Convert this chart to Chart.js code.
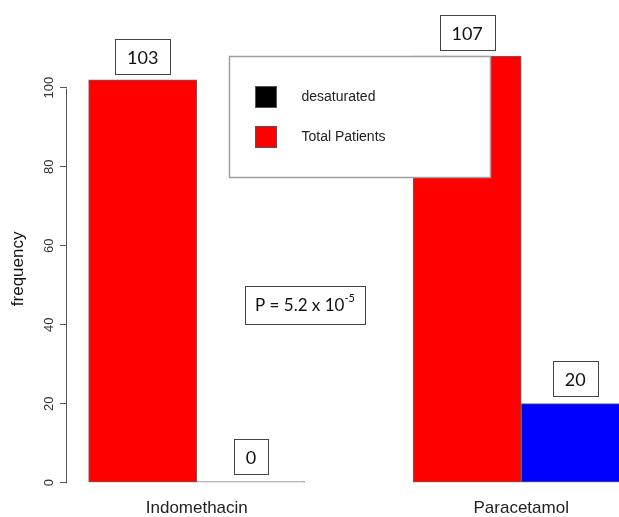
<!DOCTYPE html>
<html>
<head>
<meta charset="utf-8">
<script src="https://cdn.jsdelivr.net/npm/chart.js@4.4.1/dist/chart.umd.min.js"></script>
<style>
html, body { margin: 0; padding: 0; overflow: hidden; background: #fff; }
#wrap { width: 651px; height: 517px; }
</style>
</head>
<body>
<div id="wrap"><canvas id="myChart" width="651" height="517"></canvas></div>
<script>
// data
const groups = ['Indomethacin', 'Paracetamol'];
const totalPatients = [102, 108];
const desaturated = [0, 20];
const totalLabels = ['103', '107'];
const desatLabels = ['0', '20'];
const yTicks = [0, 20, 40, 60, 80, 100];
const legendNames = ['desaturated', 'Total Patients'];
const legendColors = ['#000000', '#ff0000'];
const pText = 'P = 5.2 x 10';
const pExp = '-5';

// R barplot(beside = TRUE) layout: each group is 2 bars wide with 1 bar gap
const center = i => 2 + 3 * i;
const redData = totalPatients.map((v, i) => ({ x: center(i) - 0.5, y: v }));
const blueData = desaturated.map((v, i) => ({ x: center(i) + 0.5, y: v }));

const labelFont = '18px Lato';
const rFont = 'Liberation Sans';

function labelBox(ctx, cx, bottom, text) {
    ctx.font = labelFont;
    const w = Math.round(ctx.measureText(text).width + 24);
    const h = 35;
    const left = Math.round(cx - w / 2) + 0.5;
    const top = Math.round(bottom - h) + 0.5;
    ctx.fillStyle = '#fff';
    ctx.fillRect(left, top, w, h);
    ctx.strokeStyle = '#444';
    ctx.lineWidth = 1;
    ctx.strokeRect(left, top, w, h);
    ctx.fillStyle = '#111';
    ctx.textAlign = 'center';
    ctx.textBaseline = 'middle';
    ctx.fillText(text, cx, top + h / 2 + 1);
}

const overlay = {
    id: 'overlay',
    afterDatasetsDraw(chart) {
        const ctx = chart.ctx;
        const x = chart.scales.x;
        const y = chart.scales.y;
        ctx.save();

        // y axis line only from first to last tick, like R
        ctx.strokeStyle = '#555';
        ctx.lineWidth = 1;
        ctx.beginPath();
        ctx.moveTo(chart.chartArea.left - 0.5, Math.round(y.getPixelForValue(yTicks[0])) + 0.5);
        ctx.lineTo(chart.chartArea.left - 0.5, Math.round(y.getPixelForValue(yTicks[yTicks.length - 1])) + 0.5);
        ctx.stroke();

        // vertical tick labels
        ctx.fillStyle = '#333';
        ctx.font = '13px ' + rFont;
        ctx.textAlign = 'center';
        ctx.textBaseline = 'alphabetic';
        yTicks.forEach(v => {
            ctx.save();
            ctx.translate(53, y.getPixelForValue(v));
            ctx.rotate(-Math.PI / 2);
            ctx.fillText(String(v), 0, 0);
            ctx.restore();
        });

        // y title
        ctx.save();
        ctx.font = '17px ' + rFont;
        ctx.fillStyle = '#111';
        ctx.translate(23, (chart.chartArea.top + chart.chartArea.bottom) / 2 + 8);
        ctx.rotate(-Math.PI / 2);
        ctx.fillText('frequency', 0, 0);
        ctx.restore();

        // legend box
        const lx = Math.round(x.getPixelForValue(2.3)) + 0.5;
        const ly = Math.round(y.getPixelForValue(108)) + 0.5;
        ctx.fillStyle = '#fff';
        ctx.fillRect(lx, ly, 261, 121);
        ctx.strokeStyle = '#a0a0a0';
        ctx.lineWidth = 1.5;
        ctx.strokeRect(lx, ly, 261, 121);
        ctx.font = '14px ' + rFont;
        ctx.textAlign = 'left';
        ctx.textBaseline = 'middle';
        legendNames.forEach((name, i) => {
            const sy = ly + 30 + i * 40;
            ctx.fillStyle = legendColors[i];
            ctx.fillRect(lx + 26, sy, 21, 21);
            ctx.strokeStyle = '#555';
            ctx.lineWidth = 1;
            ctx.strokeRect(lx + 26, sy, 21, 21);
            ctx.fillStyle = '#222';
            ctx.fillText(name, lx + 72, sy + 11);
        });

        // value boxes over the bars
        const red = chart.getDatasetMeta(0).data;
        const blue = chart.getDatasetMeta(1).data;
        red.forEach((bar, i) => labelBox(ctx, bar.x, bar.y - 6, totalLabels[i]));
        blue.forEach((bar, i) => labelBox(ctx, bar.x, bar.y - 8, desatLabels[i]));

        // p value box
        const px = x.getPixelForValue(3);
        const py = y.getPixelForValue(45);
        ctx.font = '17px Lato';
        const w1 = ctx.measureText(pText).width;
        ctx.font = '11px Lato';
        const w2 = ctx.measureText(pExp).width;
        const bw = 120, bh = 38;
        const bl = Math.round(px - bw / 2) + 0.5;
        const bt = Math.round(py - bh / 2) + 0.5;
        ctx.fillStyle = '#fff';
        ctx.fillRect(bl, bt, bw, bh);
        ctx.strokeStyle = '#444';
        ctx.lineWidth = 1;
        ctx.strokeRect(bl, bt, bw, bh);
        const tx = px - (w1 + w2) / 2;
        ctx.fillStyle = '#111';
        ctx.textAlign = 'left';
        ctx.textBaseline = 'alphabetic';
        ctx.font = '17px Lato';
        ctx.fillText(pText, tx, py + 6);
        ctx.font = '11px Lato';
        ctx.fillText(pExp, tx + w1, py - 3);

        ctx.restore();
    }
};

const zeroGray = c => (c.raw && c.raw.y === 0 ? '#777' : '#0000ff');

const ctx = document.getElementById('myChart');
new Chart(ctx, {
    type: 'bar',
    data: {
        datasets: [{
            label: 'Total Patients',
            data: redData,
            backgroundColor: '#ff0000',
            borderColor: '#666',
            borderWidth: 1,
            borderSkipped: false,
            grouped: false,
            categoryPercentage: 1,
            barPercentage: 1
        }, {
            label: 'desaturated',
            data: blueData,
            backgroundColor: zeroGray,
            borderColor: '#666',
            borderWidth: 1,
            borderSkipped: false,
            grouped: false,
            categoryPercentage: 1,
            barPercentage: 1,
            minBarLength: 1
        }]
    },
    options: {
        responsive: false,
        animation: false,
        layout: { padding: { top: 39, left: 0, right: 0, bottom: 0 } },
        plugins: { legend: { display: false }, tooltip: { enabled: false } },
        scales: {
            x: {
                type: 'linear',
                min: 0.8,
                max: 6.2,
                offset: false,
                grid: { display: false, offset: false },
                border: { display: false },
                afterBuildTicks: s => { s.ticks = groups.map((g, i) => ({ value: center(i) })); },
                ticks: {
                    callback: (v, i) => groups[i],
                    font: { family: rFont, size: 17 },
                    color: '#222',
                    padding: 7,
                    maxRotation: 0,
                    autoSkip: false
                },
                afterFit: s => { s.height = 34.3; }
            },
            y: {
                min: 0,
                max: 112.32,
                afterBuildTicks: s => { s.ticks = yTicks.map(v => ({ value: v })); },
                ticks: { display: false },
                grid: { drawOnChartArea: false, tickLength: 7, color: '#555' },
                border: { display: false },
                afterFit: s => { s.width = 67; }
            }
        }
    },
    plugins: [overlay]
});
</script>
</body>
</html>
